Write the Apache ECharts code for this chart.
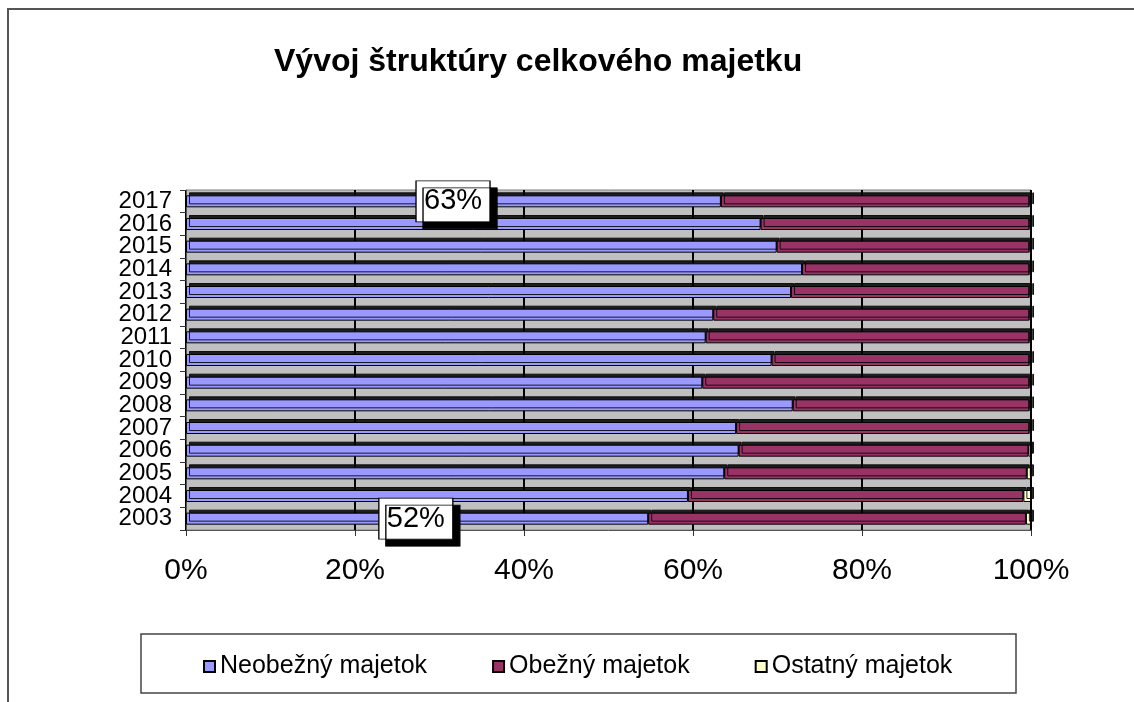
<!DOCTYPE html>
<html>
<head>
<meta charset="utf-8">
<script src="https://cdn.jsdelivr.net/npm/echarts@6/dist/echarts.min.js"></script>
<style>
  html, body { margin: 0; padding: 0; background: #fff; }
  #chart { width: 1134px; height: 702px; }
</style>
</head>
<body>
<div id="chart"></div>
<script>
var years = ['2003', '2004', '2005', '2006', '2007', '2008', '2009', '2010', '2011', '2012', '2013', '2014', '2015', '2016', '2017'];
var neobezny = [54.7, 59.4, 63.7, 65.4, 65.1, 71.8, 61.1, 69.3, 61.5, 62.4, 71.6, 72.9, 69.9, 68.0, 63.3];
var obezny = [44.7, 39.7, 35.8, 34.3, 34.7, 28.0, 38.7, 30.5, 38.3, 37.4, 28.2, 26.9, 29.9, 31.8, 36.5];
var ostatny = [0.6, 0.9, 0.5, 0.3, 0.2, 0.2, 0.2, 0.2, 0.2, 0.2, 0.2, 0.2, 0.2, 0.2, 0.2];
var xTicks = [0, 20, 40, 60, 80, 100];
var callouts = [
  { name: '63%', year: '2017', at: 31.6 },
  { name: '52%', year: '2003', at: 27.2 }
];

window.onload = function () {
  var myChart = echarts.init(document.getElementById('chart'));

  function barStyle(color) {
    return {
      color: color,
      borderColor: '#000',
      borderWidth: 1,
      shadowColor: 'rgba(0,0,0,0.85)',
      shadowBlur: 0,
      shadowOffsetX: 3,
      shadowOffsetY: -3
    };
  }

  var option = {
    animation: false,
    textStyle: { fontFamily: 'Liberation Sans, Arial, sans-serif', color: '#000' },
    title: {
      text: 'Vývoj štruktúry celkového majetku',
      left: 269,
      top: 41,
      textStyle: { fontSize: 32, fontWeight: 'bold', color: '#000', fontFamily: 'Liberation Sans' }
    },
    graphic: [
      {
        type: 'rect',
        shape: { x: 8, y: 9, width: 1200, height: 800 },
        style: { fill: 'none', stroke: '#555', lineWidth: 2 },
        silent: true
      },
      {
        type: 'rect',
        shape: { x: 141, y: 634, width: 875, height: 59 },
        style: { fill: 'none', stroke: '#444', lineWidth: 1.5 },
        silent: true
      }
    ],
    legend: {
      left: 198,
      top: 649,
      itemWidth: 11,
      itemHeight: 11,
      itemGap: 65,
      icon: 'rect',
      textStyle: { fontSize: 25, color: '#000' },
      data: ['Neobežný majetok', 'Obežný majetok', 'Ostatný majetok']
    },
    grid: {
      left: 186,
      right: 103,
      top: 190,
      bottom: 172,
      show: true,
      backgroundColor: '#c0c0c0',
      borderColor: '#808080',
      borderWidth: 1
    },
    xAxis: {
      type: 'value',
      min: xTicks[0],
      max: xTicks[xTicks.length - 1],
      interval: 20,
      axisLabel: { formatter: '{value}%', fontSize: 30, color: '#000', margin: 26 },
      axisLine: { show: true, lineStyle: { color: '#555' } },
      axisTick: { show: true, length: 6, lineStyle: { color: '#333' } },
      splitLine: { show: true, lineStyle: { color: '#000', width: 2 } }
    },
    yAxis: {
      type: 'category',
      data: years,
      axisLabel: { fontSize: 24, color: '#000', margin: 14, interval: 0 },
      axisLine: { show: true, lineStyle: { color: '#555' } },
      axisTick: { show: true, length: 6, lineStyle: { color: '#333' } }
    },
    series: [
      {
        name: 'Neobežný majetok',
        type: 'bar',
        stack: 'total',
        barWidth: 12,
        data: neobezny,
        itemStyle: barStyle('#9999ff'),
        markPoint: {
          symbol: 'rect',
          symbolSize: [74, 41],
          itemStyle: {
            color: '#fff',
            borderColor: '#000',
            borderWidth: 1,
            shadowColor: '#000',
            shadowBlur: 0,
            shadowOffsetX: 7,
            shadowOffsetY: 7
          },
          label: { show: true, formatter: '{b}', fontSize: 29, color: '#000', position: 'inside' },
          data: callouts.map(function (c) {
            return { name: c.name, coord: [c.at, c.year] };
          })
        }
      },
      {
        name: 'Obežný majetok',
        type: 'bar',
        stack: 'total',
        barWidth: 12,
        data: obezny,
        itemStyle: barStyle('#993366')
      },
      {
        name: 'Ostatný majetok',
        type: 'bar',
        stack: 'total',
        barWidth: 12,
        data: ostatny,
        itemStyle: barStyle('#ffffcc')
      }
    ]
  };
  myChart.setOption(option);
};
</script>
</body>
</html>
